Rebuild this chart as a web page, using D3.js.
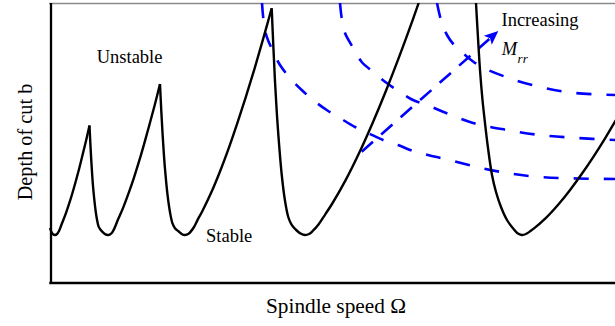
<!DOCTYPE html>
<html><head><meta charset="utf-8">
<script src="https://cdn.jsdelivr.net/npm/d3@7"></script>
<style>
body{margin:0;background:#fff}
svg{display:block}
text{font-family:"Liberation Serif","Times New Roman",serif;fill:#000}
</style>
</head><body>
<svg id="chart" width="615" height="326"></svg>
<script>
// ---- Data (arbitrary units: spindle speed vs. depth of cut) ----
const lobe0 = [[1,55],[2.5,51],[4,48.7],[6,48],[8,49],[10,52],[12.9,59.5],[16.4,68.3],[19.8,78.3],[23.3,89.5],[26.7,101.5],[30.2,114.5],[33.6,128.2],[37.1,142.5],[40.5,157.5]];
const lobe1 = [[40.5,157.5],[41.4,138.6],[42.3,122.1],[43.2,108],[44.1,96],[46,77.2],[47.8,64.5],[49.6,56.4],[51.4,53.5],[54.2,50.4],[56.5,48.6],[58.7,48],[61.3,48.7],[63.9,51.7],[69.2,63.9],[74.4,75.9],[79.6,89.8],[84.9,105.2],[90.1,121.8],[95.3,139.7],[100.5,158.5],[105.8,178.3],[111,199]];
const lobe2 = [[111,199],[112.25,172.9],[113.5,150.2],[114.75,130.7],[116,114.1],[118.5,88.3],[121,70.8],[123.5,59.6],[126,54.8],[129.75,51.5],[133,48.8],[136,48],[139.5,49.2],[144.7,55.5],[149,63.9],[153.3,71.8],[162,89.9],[170.7,110.8],[179.4,133.9],[188,158.9],[196.7,185.6],[205.4,213.9],[214,243.6],[222.7,274.7]];
const lobe3 = [[222.7,274.7],[224.4,235.5],[226,201.5],[227.7,172.2],[229.4,147.3],[232.7,108.5],[236,82.2],[239.4,65.5],[242.7,58.2],[247.7,52.5],[252,49.2],[256,48],[260,49],[263.5,51.8],[269.5,58.5],[276.25,68.7],[283,79],[296.5,102.6],[310,129.7],[323.5,159.8],[337,192.3],[350.5,227.1],[364,263.9],[377.5,302.6]];
const lobe4 = [[426,300],[427,280],[429,245],[431,213],[433.5,183],[436,160],[439,135],[443,108],[447,91],[452,76],[458,63],[465,53.5],[468.5,49.7],[472.7,48],[477,49],[484.7,54.4],[496.7,64.9],[508.7,77.8],[520.7,92.6],[532.7,109],[544.7,126.7],[556.7,145.7],[568.7,165.9]];
const lobes = [lobe0, lobe1, lobe2, lobe3, lobe4];

// Limit curves for increasing M_rr
const mrrCurve1 = [[213,280],[214.5,263],[217.7,246.3],[224.3,231.3],[231,218],[241,205],[252.7,193],[264,183],[277.7,173],[291,165],[306,156],[319,150],[334,143],[349,138],[364,132],[379,128],[396,124],[428,116],[458,110],[491,106],[528,104.5],[566,104]];
const mrrCurve2 = [[291,280],[292.7,265],[296,250],[304.3,235],[312.7,221],[324.3,211],[337.7,200],[351,191],[364,183],[378,178],[394,171.3],[424,160],[458,153],[491,148],[528,145],[566,143]];
const mrrCurve3 = [[388,280],[392,263],[398,248],[406,237],[416,228],[431,217],[457,206],[491,196],[526,190],[566,188]];
const mrrCurves = [mrrCurve1, mrrCurve2, mrrCurve3];

const arrowFrom = [312.7,131.3];
const arrowTo = [449.3,252];

const xLabel = "Spindle speed \u03A9";
const yLabel = "Depth of cut b";

// ---- Layout ----
const svg = d3.select("#chart");
const x = d3.scaleLinear().domain([0, 566]).range([49, 615]);
const y = d3.scaleLinear().domain([0, 280]).range([283, 3]);

svg.append("defs").append("clipPath").attr("id","clip")
  .append("rect").attr("x", 49).attr("y", 3).attr("width", 566).attr("height", 280);

// top frame line (grey)
svg.append("line").attr("x1", 49).attr("x2", 615).attr("y1", 3.5).attr("y2", 3.5)
  .attr("stroke", "#8a8a8a").attr("stroke-width", 1.4);

const g = svg.append("g").attr("clip-path", "url(#clip)");
const line = d3.line().x(d => x(d[0])).y(d => y(d[1])).curve(d3.curveCatmullRom.alpha(0.5));

// dashed blue curves
g.selectAll("path.mrr").data(mrrCurves).join("path").attr("class","mrr")
  .attr("d", line).attr("fill","none").attr("stroke","#0000ff")
  .attr("stroke-width", 2.6).attr("stroke-dasharray","15,15");

// arrow
const p0 = [x(arrowFrom[0]), y(arrowFrom[1])], p1 = [x(arrowTo[0]), y(arrowTo[1])];
const dx = p1[0]-p0[0], dy = p1[1]-p0[1], L = Math.hypot(dx,dy), ux = dx/L, uy = dy/L;
const headLen = 14, headW = 6;
const base = [p1[0]-ux*headLen, p1[1]-uy*headLen];
g.append("line").attr("x1", p0[0]).attr("y1", p0[1]).attr("x2", base[0]+ux*2).attr("y2", base[1]+uy*2)
  .attr("stroke","#0000ff").attr("stroke-width",2.6).attr("stroke-dasharray","15,11");
g.append("path").attr("d", `M${p1[0]},${p1[1]}L${base[0]-uy*headW},${base[1]+ux*headW}L${base[0]+ux*3},${base[1]+uy*3}L${base[0]+uy*headW},${base[1]-ux*headW}Z`)
  .attr("fill","#0000ff");

// black lobes
g.selectAll("path.lobe").data(lobes).join("path").attr("class","lobe")
  .attr("d", line).attr("fill","none").attr("stroke","#000")
  .attr("stroke-width", 2.4).attr("stroke-linejoin","miter");

// axes (no ticks)
const axL = svg.append("g").attr("transform","translate(50.5,0)")
  .call(d3.axisLeft(y).tickValues([]).tickSizeOuter(0));
const axB = svg.append("g").attr("transform","translate(0,282.5)")
  .call(d3.axisBottom(x).tickValues([]).tickSizeOuter(0));
[axL, axB].forEach(a => a.select(".domain").attr("stroke","#000").attr("stroke-width",2.3));
axB.select(".domain").attr("d", "M49.3,0.5H615");
axL.select(".domain").attr("d", "M0.5,3H0.5V283.5");

// annotations
svg.append("text").attr("x", x(47.7)).attr("y", y(219.7)).attr("font-size", 18.5).text("Unstable");
svg.append("text").attr("x", x(157)).attr("y", y(41.3)).attr("font-size", 18.5).text("Stable");
svg.append("text").attr("x", x(452.5)).attr("y", y(257)).attr("font-size", 18.5).text("Increasing");
const mt = svg.append("text").attr("x", x(452.7)).attr("y", y(228)).attr("font-size", 18.5);
mt.append("tspan").attr("font-style","italic").text("M");
mt.append("tspan").attr("font-style","italic").attr("font-size", 13).attr("dy", 7.5).attr("dx", 0.5).text("rr");

// axis labels
svg.append("text").attr("x", 336).attr("y", 313).attr("text-anchor","middle").attr("font-size", 21.3).text(xLabel);
svg.append("text").attr("transform","translate(32,142) rotate(-90)").attr("text-anchor","middle").attr("font-size", 20.3).text(yLabel);
</script>
</body></html>
